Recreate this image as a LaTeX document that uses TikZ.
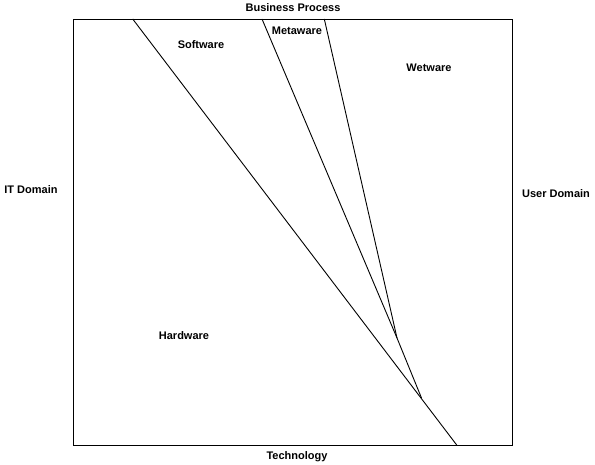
\documentclass[tikz,border=0pt]{standalone}
\usepackage{fontspec}
\setmainfont{Liberation Sans}
\begin{document}
\begin{tikzpicture}[x=1pt,y=-1pt,
  lbl/.style={font=\fontsize{11}{13}\selectfont\bfseries, inner sep=0pt},
  edge/.style={line width=0.9pt}]
\useasboundingbox (0,0) rectangle (595,465);
\draw[edge] (73,19) rectangle (512,445);
\coordinate (a1) at (132.7,19);
\coordinate (a2) at (456.7,445);
\coordinate (b1) at (262,19);
\coordinate (c1) at (324.3,19);
\coordinate (m) at (397,338);
\coordinate (j) at (421.5,398);
\draw[edge] (a1) -- (a2);
\draw[edge] (b1) -- (m);
\draw[edge] (c1) -- (m);
\draw[edge] (m) -- (j);
\node[lbl] (bp) at (293,8) {Business Process};
\node[lbl] (sw) at (201,45) {Software};
\node[lbl] (mw) at (297,31) {Metaware};
\node[lbl] (ww) at (429,68) {Wetware};
\node[lbl] (it) at (31,190) {IT Domain};
\node[lbl] (ud) at (556,194) {User Domain};
\node[lbl] (hw) at (184,336) {Hardware};
\node[lbl] (tech) at (297,457) {Technology};
\end{tikzpicture}
\end{document}
